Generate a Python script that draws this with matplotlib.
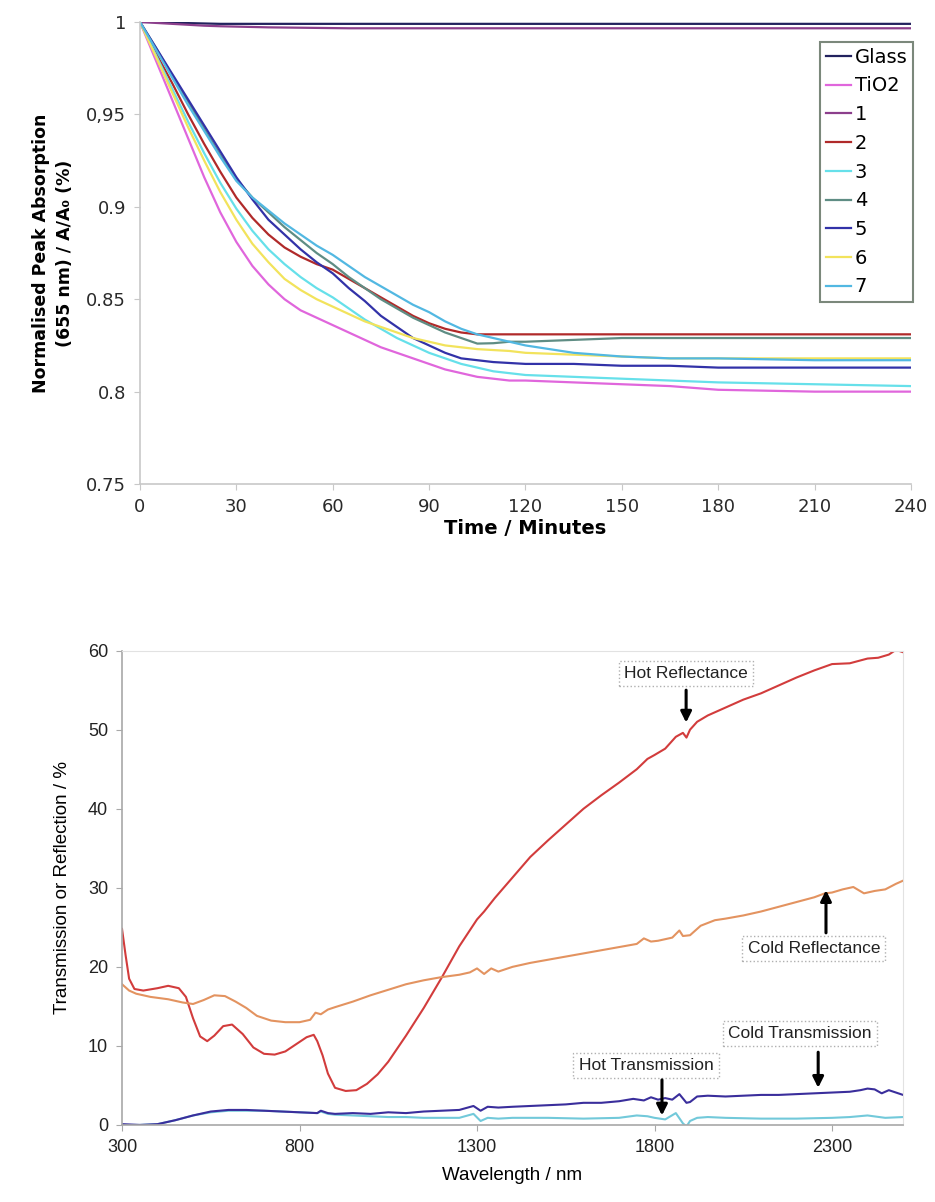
import matplotlib
matplotlib.use("Agg")
import matplotlib.pyplot as plt

# ---- top panel: normalised peak absorption vs time ----
time_min = [0, 5, 10, 15, 20, 25, 30, 35, 40, 45, 50, 55, 60, 65, 70, 75, 80, 85, 90, 95,
            100, 105, 110, 115, 120, 135, 150, 165, 180, 210, 240]

series_names = ['Glass', 'TiO2', '1', '2', '3', '4', '5', '6', '7']
glass = [1.0, 1.0, 0.9996, 0.9994, 0.9992, 0.999, 0.999, 0.999, 0.999, 0.999, 0.999, 0.999, 0.999, 0.999, 0.999, 0.999,
         0.999, 0.999, 0.999, 0.999, 0.999, 0.999, 0.999, 0.999, 0.999, 0.999, 0.999, 0.999, 0.999, 0.999, 0.999]
tio2 = [1.0, 0.979, 0.958, 0.937, 0.916, 0.897, 0.881, 0.868, 0.858, 0.850, 0.844, 0.840, 0.836, 0.832, 0.828, 0.824,
        0.821, 0.818, 0.815, 0.812, 0.810, 0.808, 0.807, 0.806, 0.806, 0.805, 0.804, 0.803, 0.801, 0.800, 0.800]
s1 = [1.0, 0.9995, 0.999, 0.9985, 0.998, 0.9977, 0.9975, 0.9973, 0.9971, 0.997, 0.9969, 0.9968, 0.9967, 0.9966, 0.9966, 0.9966,
      0.9966, 0.9966, 0.9966, 0.9966, 0.9966, 0.9966, 0.9966, 0.9966, 0.9966, 0.9966, 0.9966, 0.9966, 0.9966, 0.9966, 0.9966]
s2 = [1.0, 0.983, 0.967, 0.950, 0.934, 0.919, 0.905, 0.894, 0.885, 0.878, 0.873, 0.869, 0.866, 0.861, 0.856, 0.851,
      0.846, 0.841, 0.837, 0.834, 0.832, 0.831, 0.831, 0.831, 0.831, 0.831, 0.831, 0.831, 0.831, 0.831, 0.831]
s3 = [1.0, 0.982, 0.964, 0.946, 0.929, 0.913, 0.899, 0.887, 0.877, 0.869, 0.862, 0.856, 0.851, 0.845, 0.839, 0.834,
      0.829, 0.825, 0.821, 0.818, 0.815, 0.813, 0.811, 0.810, 0.809, 0.808, 0.807, 0.806, 0.805, 0.804, 0.803]
s4 = [1.0, 0.986, 0.971, 0.957, 0.942, 0.928, 0.915, 0.905, 0.897, 0.889, 0.882, 0.875, 0.869, 0.862, 0.856, 0.850,
      0.845, 0.840, 0.836, 0.832, 0.829, 0.826, 0.8262, 0.827, 0.827, 0.828, 0.829, 0.829, 0.829, 0.829, 0.829]
s5 = [1.0, 0.986, 0.972, 0.958, 0.944, 0.930, 0.916, 0.904, 0.893, 0.885, 0.877, 0.870, 0.864, 0.856, 0.849, 0.841,
      0.835, 0.829, 0.825, 0.821, 0.818, 0.817, 0.816, 0.8155, 0.815, 0.815, 0.814, 0.814, 0.813, 0.813, 0.813]
s6 = [1.0, 0.981, 0.962, 0.943, 0.925, 0.908, 0.893, 0.880, 0.870, 0.861, 0.855, 0.850, 0.846, 0.842, 0.838, 0.835,
      0.832, 0.829, 0.827, 0.825, 0.824, 0.823, 0.8225, 0.822, 0.821, 0.820, 0.819, 0.818, 0.818, 0.818, 0.818]
s7 = [1.0, 0.985, 0.970, 0.955, 0.941, 0.927, 0.914, 0.905, 0.898, 0.891, 0.885, 0.879, 0.874, 0.868, 0.862, 0.857,
      0.852, 0.847, 0.843, 0.838, 0.834, 0.831, 0.829, 0.827, 0.825, 0.821, 0.819, 0.818, 0.818, 0.817, 0.817]
top_colors = ['#22225e', '#e066dc', '#8c3f8c', '#b02a2a', '#66e0ea', '#5f8d84', '#3232a8', '#f2e35c', '#52b8e2']

y_ticks_top = [0.75, 0.8, 0.85, 0.9, 0.95, 1.0]
y_ticklabels_top = ['0.75', '0.8', '0.85', '0.9', '0,95', '1']
x_ticks_top = [0, 30, 60, 90, 120, 150, 180, 210, 240]

# ---- bottom panel: spectra ----
wl_hot_r = [300, 310, 320, 335, 360, 400, 430, 460, 480, 500, 520, 540, 560, 585, 610, 640, 670, 700, 730, 760,
            790, 820, 840, 850, 865, 880, 900, 930, 960, 990, 1020, 1050, 1100, 1150, 1200, 1250, 1300, 1320, 1350, 1400,
            1450, 1500, 1550, 1600, 1650, 1700, 1750, 1780, 1800, 1830, 1860, 1880, 1890, 1900, 1920, 1950, 2000, 2050, 2100, 2150,
            2200, 2250, 2300, 2350, 2400, 2430, 2460, 2480, 2500]
hot_reflectance = [24.8, 21.5, 18.5, 17.2, 17.0, 17.3, 17.6, 17.3, 16.2, 13.5, 11.2, 10.6, 11.3, 12.5, 12.7, 11.5, 9.8, 9.0, 8.9, 9.3,
                   10.2, 11.1, 11.4, 10.6, 8.8, 6.5, 4.7, 4.3, 4.4, 5.2, 6.4, 8.0, 11.3, 14.8, 18.6, 22.6, 26.0, 27.0, 28.7, 31.3,
                   33.9, 36.0, 38.0, 40.0, 41.7, 43.3, 45.0, 46.3, 46.8, 47.6, 49.1, 49.6, 49.0, 50.0, 51.0, 51.8, 52.8, 53.8, 54.6, 55.6,
                   56.6, 57.5, 58.3, 58.4, 59.0, 59.1, 59.5, 60.1, 59.8]

wl_cold_r = [300, 320, 340, 380, 430, 470, 500, 530, 560, 590, 620, 650, 680, 720, 760, 800, 830, 845, 860, 880,
             900, 950, 1000, 1050, 1100, 1150, 1200, 1250, 1280, 1300, 1320, 1340, 1360, 1400, 1450, 1500, 1550, 1600, 1650, 1700,
             1750, 1770, 1790, 1810, 1850, 1870, 1880, 1900, 1930, 1970, 2000, 2050, 2100, 2150, 2200, 2250, 2280, 2300, 2330, 2360,
             2390, 2420, 2450, 2480, 2500]
cold_reflectance = [17.8, 17.0, 16.6, 16.2, 15.9, 15.5, 15.3, 15.8, 16.4, 16.3, 15.6, 14.8, 13.8, 13.2, 13.0, 13.0, 13.3, 14.2, 14.0, 14.6,
                    14.9, 15.6, 16.4, 17.1, 17.8, 18.3, 18.7, 19.0, 19.3, 19.8, 19.1, 19.8, 19.4, 20.0, 20.5, 20.9, 21.3, 21.7, 22.1, 22.5,
                    22.9, 23.6, 23.2, 23.3, 23.7, 24.6, 23.9, 24.0, 25.2, 25.9, 26.1, 26.5, 27.0, 27.6, 28.2, 28.8, 29.3, 29.4, 29.8, 30.1,
                    29.3, 29.6, 29.8, 30.5, 30.9]

wl_cold_t = [300, 350, 400, 450, 500, 550, 600, 650, 700, 750, 800, 850, 860, 880, 900, 950, 1000, 1050, 1100, 1150,
             1200, 1250, 1290, 1310, 1330, 1360, 1400, 1450, 1500, 1550, 1600, 1650, 1700, 1740, 1770, 1790, 1810, 1830, 1850, 1870,
             1890, 1900, 1920, 1950, 2000, 2050, 2100, 2150, 2200, 2250, 2300, 2350, 2380, 2400, 2420, 2440, 2460, 2480, 2500]
cold_transmission = [0.1, 0.0, 0.1, 0.6, 1.2, 1.7, 1.9, 1.9, 1.8, 1.7, 1.6, 1.5, 1.8, 1.5, 1.4, 1.5, 1.4, 1.6, 1.5, 1.7,
                     1.8, 1.9, 2.4, 1.8, 2.3, 2.2, 2.3, 2.4, 2.5, 2.6, 2.8, 2.8, 3.0, 3.3, 3.1, 3.5, 3.2, 3.4, 3.2, 3.9,
                     2.8, 2.9, 3.6, 3.7, 3.6, 3.7, 3.8, 3.8, 3.9, 4.0, 4.1, 4.2, 4.4, 4.6, 4.5, 4.0, 4.4, 4.1, 3.8]

wl_hot_t = [300, 350, 400, 450, 500, 550, 600, 650, 700, 750, 800, 850, 860, 880, 900, 950, 1000, 1050, 1100, 1150,
            1200, 1250, 1290, 1310, 1330, 1360, 1400, 1500, 1600, 1700, 1750, 1780, 1800, 1830, 1860, 1880, 1890, 1900, 1920, 1950,
            2000, 2100, 2200, 2300, 2350, 2400, 2450, 2500]
hot_transmission = [0.0, 0.0, 0.1, 0.6, 1.2, 1.6, 1.8, 1.8, 1.8, 1.7, 1.6, 1.5, 1.7, 1.4, 1.3, 1.2, 1.1, 1.0, 1.0, 0.9,
                    0.9, 0.9, 1.4, 0.5, 0.9, 0.8, 0.9, 0.9, 0.8, 0.9, 1.2, 1.1, 0.9, 0.7, 1.5, 0.2, -0.2, 0.5, 0.9, 1.0,
                    0.9, 0.8, 0.8, 0.9, 1.0, 1.2, 0.9, 1.0]

# annotation labels: (text, text x, text y, arrow x, arrow start y, arrow end y)
notes = [
    ('Hot Reflectance', 1889, 57.1, 1889, 55.0, 50.9),
    ('Cold Reflectance', 2249, 22.3, 2283, 24.3, 29.7),
    ('Cold Transmission', 2210, 11.6, 2261, 9.2, 4.7),
    ('Hot Transmission', 1776, 7.5, 1821, 5.7, 1.2),
]

fig = plt.figure(figsize=(9.35, 12.02), dpi=100)

# top chart
ax1 = fig.add_axes([0.1497, 0.5973, 0.8246, 0.3844])
top_data = [glass, tio2, s1, s2, s3, s4, s5, s6, s7]
for name, vals, col in zip(series_names, top_data, top_colors):
    ax1.plot(time_min, vals, color=col, lw=1.6, label=name)
ax1.set_xlim(0, 240)
ax1.set_ylim(0.75, 1.0)
ax1.set_xticks(x_ticks_top)
ax1.set_yticks(y_ticks_top)
ax1.set_yticklabels(y_ticklabels_top)
for s in ['top', 'right']:
    ax1.spines[s].set_visible(False)
for s in ['left', 'bottom']:
    ax1.spines[s].set_color('#c8c8c8')
    ax1.spines[s].set_linewidth(1.2)
ax1.tick_params(colors='#c8c8c8', labelcolor='#2a2a2a', labelsize=13, length=4, pad=6)
ax1.set_xlabel('Time / Minutes', fontsize=14, fontweight='bold', labelpad=2)
ax1.set_ylabel('Normalised Peak Absorption\n(655 nm) / A/A\u2080 (%)', fontsize=12.5,
               fontweight='bold', linespacing=1.4, labelpad=9)
leg = ax1.legend(loc='upper right', bbox_to_anchor=(1.003, 0.957), fontsize=14, frameon=True,
                 fancybox=False, borderpad=0.3, labelspacing=0.5, handlelength=1.3,
                 handletextpad=0.2, borderaxespad=0)
leg.get_frame().set_edgecolor('#5a6a5a')
leg.get_frame().set_linewidth(1.5)

# bottom chart
ax2 = fig.add_axes([0.1305, 0.0641, 0.8353, 0.3946])
font2 = ['Liberation Sans', 'DejaVu Sans']
ax2.plot(wl_hot_r, hot_reflectance, color='#d23c3c', lw=1.5)
ax2.plot(wl_cold_r, cold_reflectance, color='#e39360', lw=1.5)
ax2.plot(wl_hot_t, hot_transmission, color='#72c9da', lw=1.5)
ax2.plot(wl_cold_t, cold_transmission, color='#3a2e9c', lw=1.5)
ax2.set_xlim(300, 2500)
ax2.set_ylim(0, 60)
ax2.set_xticks([300, 800, 1300, 1800, 2300])
ax2.set_yticks([0, 10, 20, 30, 40, 50, 60])
for s in ['top', 'right']:
    ax2.spines[s].set_color('#e2e2e2')
for s in ['left', 'bottom']:
    ax2.spines[s].set_color('#a8a8a8')
    ax2.spines[s].set_linewidth(1.2)
ax2.tick_params(colors='#a8a8a8', labelcolor='#222222', labelsize=13, length=4, pad=6)
for lab in ax2.get_xticklabels() + ax2.get_yticklabels():
    lab.set_family(font2)
ax2.set_xlabel('Wavelength / nm', fontsize=13.5, family=font2, labelpad=8)
ax2.set_ylabel('Transmission or Reflection / %', fontsize=13.5, family=font2, labelpad=12)

for text, tx, ty, ax_x, y0, y1 in notes:
    ax2.text(tx, ty, text, ha='center', va='center', fontsize=12.5, family=font2, color='#222222',
             bbox=dict(boxstyle='square,pad=0.3', facecolor='white', edgecolor='#b0b0b0',
                       linestyle=':', linewidth=1.0))
    ax2.annotate('', xy=(ax_x, y1), xytext=(ax_x, y0),
                 arrowprops=dict(arrowstyle='-|>', color='black', lw=2.2, mutation_scale=16,
                                 shrinkA=0, shrinkB=0))

fig.savefig('out.png', dpi=100)
